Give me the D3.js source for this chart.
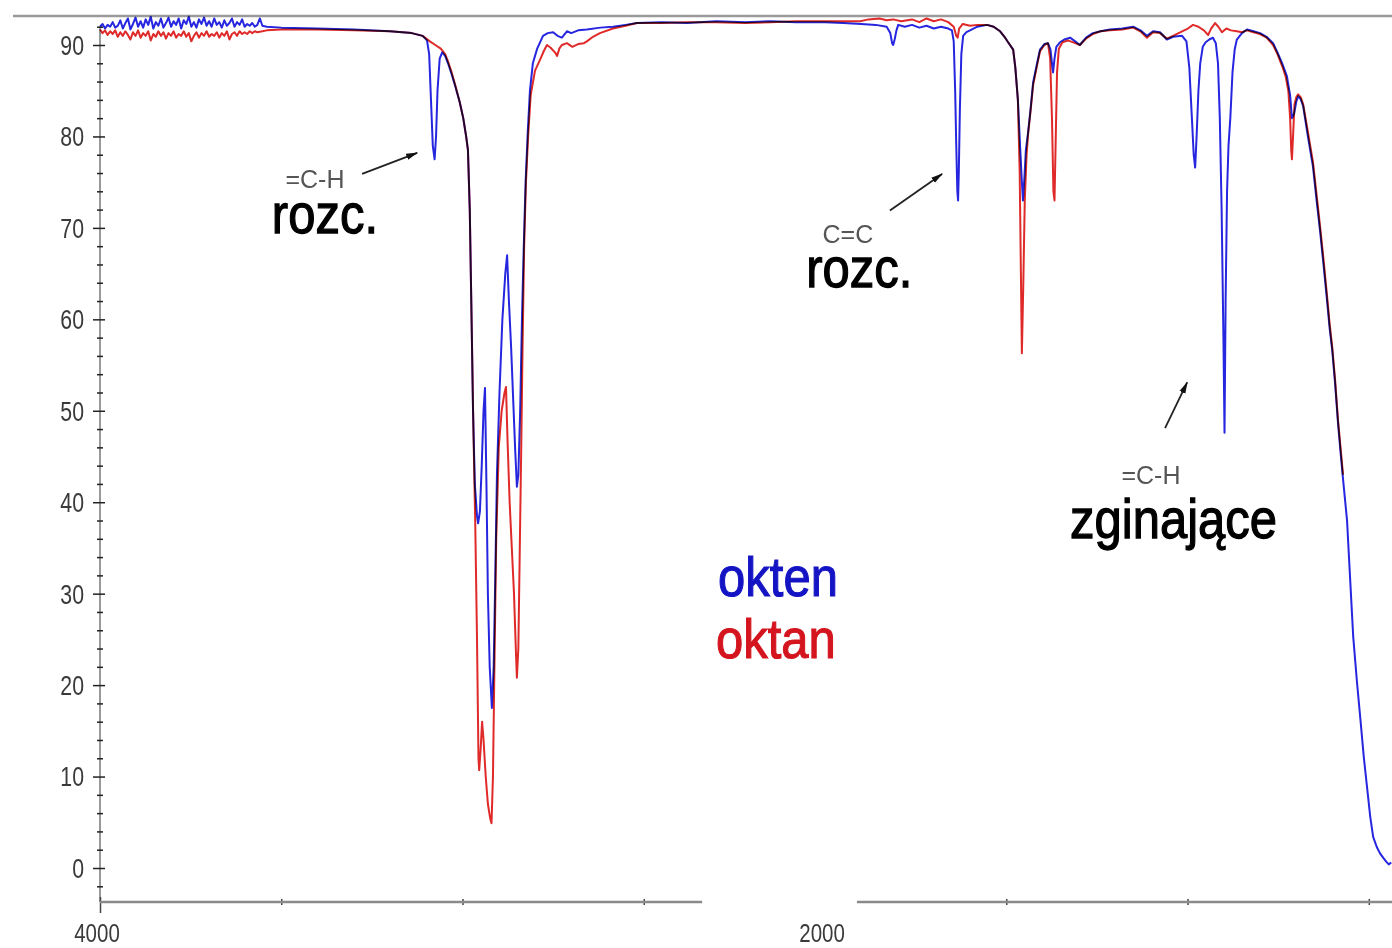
<!DOCTYPE html>
<html>
<head>
<meta charset="utf-8">
<script src="https://cdn.jsdelivr.net/npm/d3@7"></script>
<style>
  body { margin: 0; background: #fff; }
  svg { display: block; }
</style>
</head>
<body>
<script>
// IR spectra: okten (1-octene) vs oktan (octane), wavenumber [cm-1] vs transmittance [%]
const okten = [
  [4000,92.0],[3993,92.3],[3986,91.8],[3979,92.2],[3972,92.0],[3965,92.5],[3958,91.9],[3951,92.1],[3944,92.7],[3937,91.8],
  [3930,92.4],[3923,92.9],[3916,91.7],[3909,92.3],[3902,93.0],[3895,92.0],[3888,92.6],[3881,91.9],[3874,92.8],[3867,92.2],
  [3860,93.1],[3853,91.8],[3846,92.5],[3839,92.1],[3832,92.9],[3825,91.9],[3818,92.4],[3811,93.0],[3804,92.0],[3797,92.6],
  [3790,92.2],[3783,92.9],[3776,91.8],[3769,92.7],[3762,92.3],[3755,93.1],[3748,92.0],[3741,92.5],[3734,91.9],[3727,92.8],
  [3720,92.3],[3713,93.0],[3706,92.1],[3699,92.6],[3692,92.0],[3685,92.9],[3678,92.2],[3671,92.5],[3664,91.9],[3657,92.7],
  [3650,92.1],[3643,92.4],[3636,92.9],[3629,92.0],[3622,92.5],[3615,92.2],[3608,92.8],[3601,92.0],[3594,92.3],[3587,92.1],
  [3580,92.4],[3573,92.0],[3566,92.2],[3559,92.9],[3552,92.1],[3540,92.0],
  [3500,91.9],[3400,91.8],[3300,91.7],[3200,91.5],[3140,91.3],[3110,91.0],[3098,90.5],[3092,89.0],[3087,84],[3082,79],
  [3077,77.5],[3073,80],[3069,85],[3063,88.5],[3056,89.2],[3048,88.8],[3040,88.0],[3030,86.8],[3020,85.5],[3008,83.8],
  [2998,82],[2990,80],[2985,78.5],[2980,72],[2975,60],[2971,50],[2966,42],[2960,38.5],[2957,37.7],[2952,39],
  [2947,44],[2942,50],[2938,52.5],[2934,42],[2930,30],[2925,22],[2919,17.5],[2914,22],[2910,31],[2905,43],
  [2898,52],[2890,60],[2882,65],[2877,67],[2872,62],[2866,57],[2860,51],[2855,46],[2850,41.7],[2846,43],
  [2841,50],[2836,60],[2831,68],[2826,75],[2820,80.5],[2814,85],[2806,88],[2794,89.6],[2778,91.0],[2765,91.3],
  [2750,91.4],[2738,91.0],[2726,90.8],[2712,91.5],[2700,91.3],[2681,91.6],[2657,91.7],[2620,91.9],[2585,92.0],[2550,92.2],
  [2519,92.4],[2450,92.5],[2380,92.4],[2300,92.6],[2220,92.5],[2150,92.6],[2080,92.5],[2000,92.5],[1950,92.4],[1900,92.3],
  [1860,92.2],[1830,92.0],[1820,91.3],[1815,90.2],[1812,90.0],[1808,90.6],[1803,91.6],[1798,92.2],[1780,92.0],[1760,92.2],
  [1740,91.9],[1720,92.1],[1700,91.8],[1680,92.0],[1660,91.8],[1650,91.6],[1645,90.4],[1641,85],[1638,79],[1635,74],
  [1633,73],[1631,76],[1628,83],[1624,89],[1619,91.0],[1610,91.4],[1600,91.6],[1580,92.0],[1553,92.2],[1535,92.0],
  [1517,91.5],[1505,90.9],[1495,90.3],[1481,89.5],[1475,87.5],[1468,84],[1462,79],[1457,75],[1454,73],[1450,75.5],
  [1446,78.5],[1440,80.4],[1433,83],[1426,85.9],[1415,88],[1407,89.5],[1395,90.1],[1385,90.2],[1378,89.5],[1374,88],
  [1371,87],[1367,88.5],[1362,89.8],[1352,90.3],[1340,90.6],[1324,90.8],[1310,90.4],[1297,90.0],[1280,90.8],[1261,91.3],
  [1240,91.5],[1214,91.7],[1180,91.8],[1150,92.0],[1130,91.6],[1112,91.0],[1095,91.5],[1076,91.4],[1057,90.6],[1040,90.9],
  [1015,91.0],[1003,90.4],[995,87.5],[988,82],[983,78],[979,76.6],[975,80],[970,85],[965,88],[958,89.8],
  [950,90.3],[940,90.6],[930,90.8],[922,90.2],[916,88],[911,82],[906,72],[901,58],[898,47.6],[895,62],
  [891,74],[887,79],[882,82],[876,87],[870,89.5],[864,90.6],[850,91.3],[836,91.7],[818,91.5],[800,91.3],
  [782,90.9],[764,90.2],[752,89.2],[739,88],[726,86.6],[717,84.5],[712,82],[706,82.5],[700,83.8],[695,84.4],
  [688,84.1],[681,83.3],[668,80],[654,76.7],[644,73],[634,69.5],[625,66],[615,62],[608,59],[601,56.7],
  [593,53],[585,48.7],[578,45.5],[571,42.5],[560,38],[552,32],[543,25.3],[533,20.5],[523,16.2],[514,12.2],
  [505,8.9],[496,5.6],[488,3.4],[478,2.3],[469,1.6],[460,1.1],[452,0.7],[445,0.4],[438,0.6]
];

const oktan = [
  [4000,91.7],[3993,91.3],[3986,91.6],[3979,91.1],[3972,91.5],[3965,91.2],[3958,91.6],[3951,90.9],[3944,91.4],[3937,91.0],
  [3930,91.5],[3923,91.1],[3916,90.6],[3909,91.4],[3902,91.0],[3895,91.6],[3888,90.8],[3881,91.3],[3874,91.0],[3867,91.5],
  [3860,90.5],[3853,91.2],[3846,90.9],[3839,91.5],[3832,91.0],[3825,91.4],[3818,90.7],[3811,91.3],[3804,91.0],[3797,91.5],
  [3790,90.8],[3783,91.2],[3776,91.0],[3769,91.5],[3762,90.9],[3755,91.3],[3748,90.4],[3741,91.0],[3734,91.4],[3727,90.8],
  [3720,91.3],[3713,91.0],[3706,91.5],[3699,90.9],[3692,91.2],[3685,91.0],[3678,91.4],[3671,90.8],[3664,91.3],[3657,91.0],
  [3650,91.5],[3643,90.6],[3636,91.2],[3629,91.4],[3622,91.0],[3615,91.5],[3608,91.2],[3601,91.4],[3594,91.2],[3587,91.5],
  [3580,91.3],[3573,91.5],[3566,91.4],[3552,91.5],[3540,91.6],
  [3500,91.7],[3400,91.7],[3300,91.6],[3200,91.5],[3140,91.3],[3110,91.0],[3090,90.4],[3075,90.0],[3060,89.6],[3048,89.0],
  [3040,88.2],[3030,87.0],[3020,85.6],[3008,83.8],[2998,82],[2990,80],[2985,78.5],[2980,72],[2975,60],[2970,48],
  [2965,38],[2960,25],[2956,12],[2954,10.7],[2950,13],[2946,16],[2942,14],[2936,10],[2930,7],[2924,5.5],
  [2920,4.9],[2916,10],[2912,22],[2907,36],[2900,46],[2892,50],[2884,52],[2880,52.6],[2876,47],[2870,40],
  [2864,35],[2858,30],[2853,24],[2850,20.8],[2846,24],[2842,35],[2838,46],[2834,58],[2830,68],[2825,75],
  [2819,80],[2812,84.5],[2800,87.2],[2786,88.4],[2775,89.4],[2767,90.0],[2757,89.7],[2745,89.2],[2739,88.8],[2733,89.6],
  [2726,90.0],[2712,90.2],[2697,89.8],[2681,90.1],[2665,90.2],[2657,90.4],[2640,90.9],[2621,91.3],[2585,91.8],[2550,92.1],
  [2519,92.4],[2450,92.4],[2380,92.5],[2300,92.5],[2220,92.4],[2150,92.5],[2080,92.6],[2000,92.6],[1950,92.6],[1903,92.6],
  [1880,92.8],[1850,92.9],[1830,92.7],[1812,92.8],[1790,92.6],[1760,92.8],[1740,92.5],[1720,92.9],[1700,92.6],[1680,92.8],
  [1660,92.5],[1645,92.0],[1638,91.0],[1634,90.8],[1630,91.8],[1620,92.3],[1600,92.1],[1580,92.2],[1553,92.2],[1535,92.0],
  [1517,91.5],[1505,90.9],[1495,90.3],[1481,89.5],[1475,87.5],[1468,84],[1463,76],[1460,66],[1457,56.3],[1453,64],
  [1449,73],[1444,78],[1440,80.2],[1433,82.8],[1426,85.6],[1415,87.8],[1407,89.3],[1395,90],[1385,90.2],[1379,88.5],
  [1374,82],[1370,74],[1367,73],[1364,79],[1360,87],[1355,89.6],[1345,90.3],[1330,90.5],[1310,90.2],[1297,90.0],
  [1280,90.7],[1261,91.2],[1240,91.5],[1214,91.6],[1180,91.7],[1150,91.9],[1130,91.5],[1112,90.8],[1095,91.4],[1076,91.3],
  [1057,90.7],[1040,91.0],[1015,91.5],[999,91.8],[985,92.2],[970,92.0],[955,91.6],[943,91.1],[935,91.8],[924,92.4],
  [915,92.0],[905,91.4],[893,91.8],[880,91.6],[864,91.5],[850,91.4],[836,91.6],[818,91.4],[800,91.2],[782,90.8],
  [764,90.0],[752,89.0],[739,87.7],[729,86.5],[722,85],[717,82],[714,78.5],[712,77.5],[709,80],[705,83.5],
  [700,84.3],[695,84.6],[688,84.3],[681,83.5],[668,80.5],[654,77.2],[644,73.6],[634,70],[625,66.6],[615,62.5],
  [608,59.5],[601,57],[593,53.4],[585,49],[578,46],[571,43]
];

const yMajor = [0, 10, 20, 30, 40, 50, 60, 70, 80, 90];
const yMinor = [-2, 2, 4, 6, 8, 12, 14, 16, 18, 22, 24, 26, 28, 32, 34, 36, 38, 42, 44, 46, 48,
                52, 54, 56, 58, 62, 64, 66, 68, 72, 74, 76, 78, 82, 84, 86, 88, 92];
const xTicks = [4000, 3500, 3000, 2500, 1500, 1000, 500];
const xLabels = [4000, 2000];

// annotations, placed in data coordinates
const notes = [
  {wn: 3407, t: 74.4, text: "=C-H", small: true, anchor: "middle"},
  {wn: 3526, t: 69.4, text: "rozc.", small: false, anchor: "start"},
  {wn: 1937, t: 68.4, text: "C=C", small: true, anchor: "middle"},
  {wn: 2052, t: 63.5, text: "rozc.", small: false, anchor: "start"},
  {wn: 1101, t: 42.0, text: "=C-H", small: true, anchor: "middle"},
  {wn: 1324, t: 36.1, text: "zginające", small: false, anchor: "start"}
];
const arrows = [
  [[3277, 75.9], [3125, 78.2]],
  [[1821, 71.9], [1677, 75.9]],
  [[1062, 48.1], [1001, 53.1]]
];
const legend = [
  {name: "okten", wn: 2295, t: 29.7, color: "#1414c4"},
  {name: "oktan", wn: 2301, t: 23.0, color: "#d4141e"}
];

const width = 1392, height = 948;
const svg = d3.select("body").append("svg")
  .attr("width", width).attr("height", height)
  .style("background", "#fff");

const x = d3.scaleLinear().domain([4000, 436]).range([100, 1392]);
const y = d3.scaleLinear().domain([0, 90]).range([868, 45]);
const axisY = 902;

// top frame line
svg.append("line")
  .attr("x1", 13).attr("x2", width)
  .attr("y1", 16).attr("y2", 16)
  .attr("stroke", "#9a9a9a").attr("stroke-width", 2.5);

// y axis
svg.append("line")
  .attr("x1", 100).attr("x2", 100)
  .attr("y1", 28).attr("y2", axisY)
  .attr("stroke", "#777").attr("stroke-width", 1.5);

const yAxisMinor = svg.append("g")
  .attr("transform", "translate(100,0)")
  .call(d3.axisLeft(y).tickValues(yMinor).tickSize(3).tickFormat(""));
yAxisMinor.select(".domain").remove();
yAxisMinor.selectAll(".tick line").attr("x1", 3).attr("stroke", "#222").attr("stroke-width", 1.5);

const yAxisMajor = svg.append("g")
  .attr("transform", "translate(100,0)")
  .call(d3.axisLeft(y).tickValues(yMajor).tickSize(7).tickFormat(""));
yAxisMajor.select(".domain").remove();
yAxisMajor.selectAll(".tick line").attr("x1", 5).attr("stroke", "#222").attr("stroke-width", 1.5);

svg.append("g").selectAll("text")
  .data(yMajor).enter()
  .append("text")
  .attr("transform", d => `translate(84,${y(d)}) scale(0.82,1.05)`)
  .attr("dy", "0.36em")
  .attr("text-anchor", "end")
  .attr("font-family", "Liberation Sans, Arial, sans-serif")
  .attr("font-size", 26)
  .attr("fill", "#3a3a3a")
  .text(d => d);

// x axis, broken around 2000
const xAxisG = svg.append("g")
  .attr("transform", `translate(0,${axisY})`)
  .call(d3.axisBottom(x).tickValues(xTicks).tickSize(3).tickFormat(""));
xAxisG.select(".domain").remove();
xAxisG.selectAll(".tick line")
  .attr("y1", d => d === 4000 ? -5 : -3)
  .attr("y2", d => d === 4000 ? 11 : 3)
  .attr("stroke", "#444").attr("stroke-width", 1.5);

[[4000, 2339], [1912, 436]].forEach(seg => {
  svg.append("line")
    .attr("x1", x(seg[0])).attr("x2", x(seg[1]))
    .attr("y1", axisY).attr("y2", axisY)
    .attr("stroke", "#8a8a8a").attr("stroke-width", 2.5);
});

svg.append("g").selectAll("text")
  .data(xLabels).enter()
  .append("text")
  .attr("transform", d => `translate(${x(d) - 3},942) scale(0.82,1.05)`)
  .attr("text-anchor", "middle")
  .attr("font-family", "Liberation Sans, Arial, sans-serif")
  .attr("font-size", 25)
  .attr("fill", "#3a3a3a")
  .text(d => d);

// spectra
const line = d3.line()
  .x(d => x(d[0]))
  .y(d => y(d[1]));

svg.append("path")
  .datum(oktan)
  .attr("d", line)
  .attr("fill", "none")
  .attr("stroke", "#e02a2a")
  .attr("stroke-width", 2)
  .attr("stroke-linejoin", "round")
  .style("mix-blend-mode", "multiply");

svg.append("path")
  .datum(okten)
  .attr("d", line)
  .attr("fill", "none")
  .attr("stroke", "#2626e0")
  .attr("stroke-width", 2)
  .attr("stroke-linejoin", "round")
  .style("mix-blend-mode", "multiply");

// arrows
const defs = svg.append("defs");
defs.append("marker")
  .attr("id", "head")
  .attr("viewBox", "0 0 12 8")
  .attr("refX", 11).attr("refY", 4)
  .attr("markerWidth", 12).attr("markerHeight", 8)
  .attr("markerUnits", "userSpaceOnUse")
  .attr("orient", "auto")
  .append("path")
  .attr("d", "M0,0.8 L12,4 L0,7.2 Z")
  .attr("fill", "#111");

svg.append("g").selectAll("line")
  .data(arrows).enter()
  .append("line")
  .attr("x1", d => x(d[0][0])).attr("y1", d => y(d[0][1]))
  .attr("x2", d => x(d[1][0])).attr("y2", d => y(d[1][1]))
  .attr("stroke", "#222").attr("stroke-width", 1.8)
  .attr("marker-end", "url(#head)");

// annotation texts
svg.append("g").selectAll("text")
  .data(notes).enter()
  .append("text")
  .attr("transform", d => `translate(${x(d.wn)},${y(d.t)}) scale(1,${d.small ? 1.05 : 1.15})`)
  .attr("text-anchor", d => d.anchor)
  .attr("font-family", "Liberation Sans, Arial, sans-serif")
  .attr("font-size", d => d.small ? 25 : 49)
  .attr("fill", d => d.small ? "#555" : "#000")
  .attr("stroke", d => d.small ? "none" : "#000")
  .attr("stroke-width", 1.1)
  .text(d => d.text);

// legend
svg.append("g").selectAll("text")
  .data(legend).enter()
  .append("text")
  .attr("transform", d => `translate(${x(d.wn)},${y(d.t)}) scale(1,1.15)`)
  .attr("font-family", "Liberation Sans, Arial, sans-serif")
  .attr("font-size", 49)
  .attr("fill", d => d.color)
  .attr("stroke", d => d.color)
  .attr("stroke-width", 1)
  .text(d => d.name);
</script>
</body>
</html>
